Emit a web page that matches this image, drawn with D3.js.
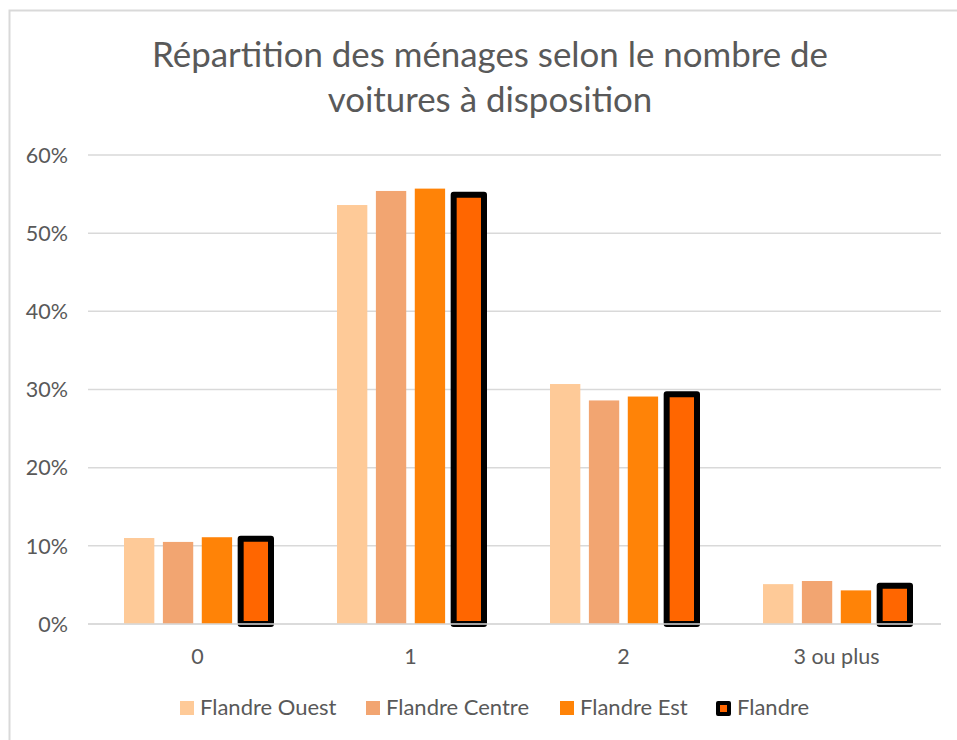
<!DOCTYPE html>
<html>
<head>
<meta charset="utf-8">
<script src="https://cdn.jsdelivr.net/npm/d3@7"></script>
<style>
  body { margin: 0; background: #fff; }
  svg text { font-family: Lato, "Open Sans", sans-serif; fill: #595959; }
</style>
</head>
<body>
<div id="chart"></div>
<script>
const categories = ['0', '1', '2', '3 ou plus'];
const seriesNames = ['Flandre Ouest', 'Flandre Centre', 'Flandre Est', 'Flandre'];
const ouest = [11.0, 53.6, 30.7, 5.1];
const centre = [10.5, 55.4, 28.6, 5.5];
const est = [11.1, 55.7, 29.1, 4.3];
const flandre = [10.9, 54.9, 29.4, 4.9];
const yTicks = [0, 10, 20, 30, 40, 50, 60];

const colors = ['#FECA98', '#F2A571', '#FF8307', '#FF6600'];
const values = [ouest, centre, est, flandre];

const W = 957, H = 740;
const svg = d3.select('#chart').append('svg')
  .attr('width', W)
  .attr('height', H);

// chart frame
svg.append('rect')
  .attr('x', 9.5).attr('y', 10.5)
  .attr('width', W + 20).attr('height', H + 20)
  .attr('fill', 'none')
  .attr('stroke', '#D9D9D9')
  .attr('stroke-width', 2);

// title
const title = svg.append('text')
  .attr('text-anchor', 'middle')
  .attr('font-size', 32);
const t1 = title.append('tspan').attr('x', 490).attr('y', 67).text('Répartition des ménages selon le nombre de');
title.append('tspan').attr('x', 490).attr('y', 112).text('voitures à disposition');
// fit first line to the width seen in the picture
const tw = t1.node().getComputedTextLength();
title.attr('font-size', 32 * 676 / tw);

const x0 = d3.scaleBand()
  .domain(categories)
  .range([91, 943]);

const x1 = d3.scaleBand()
  .domain(seriesNames)
  .range([33, 180])
  .paddingInner(0.22);

const y = d3.scaleLinear()
  .domain([0, 60])
  .range([624, 155]);

// gridlines
svg.append('g')
  .selectAll('line')
  .data(yTicks)
  .join('line')
  .attr('x1', 88).attr('x2', 941)
  .attr('y1', d => y(d)).attr('y2', d => y(d))
  .attr('stroke', '#D9D9D9')
  .attr('stroke-width', 1.5);

svg.append('g')
  .selectAll('text')
  .data(yTicks)
  .join('text')
  .attr('x', 68)
  .attr('y', d => y(d))
  .attr('dy', '0.36em')
  .attr('text-anchor', 'end')
  .attr('font-size', 21.5)
  .text(d => d + '%');

// bars
seriesNames.forEach((s, si) => {
  const g = svg.append('g');
  g.selectAll('rect')
    .data(categories)
    .join('rect')
    .attr('x', (c) => x0(c) + x1(s))
    .attr('y', (c, i) => y(values[si][i]))
    .attr('width', x1.bandwidth())
    .attr('height', (c, i) => y(0) - y(values[si][i]))
    .attr('fill', colors[si])
    .attr('stroke', si === 3 ? '#000' : 'none')
    .attr('stroke-width', si === 3 ? 6 : 0)
    .attr('stroke-linejoin', 'round');
});

// base axis line
svg.append('line')
  .attr('x1', 88).attr('x2', 941)
  .attr('y1', y(0)).attr('y2', y(0))
  .attr('stroke', '#D9D9D9')
  .attr('stroke-width', 1.5);

svg.append('g')
  .selectAll('text')
  .data(categories)
  .join('text')
  .attr('x', d => x0(d) + x0.bandwidth() / 2)
  .attr('y', 664)
  .attr('text-anchor', 'middle')
  .attr('font-size', 21.5)
  .text(d => d);

// legend
const legendX = [180, 366, 560, 716];
const lg = svg.append('g');
seriesNames.forEach((s, i) => {
  const item = lg.append('g').attr('transform', `translate(${legendX[i]},701)`);
  if (i === 3) {
    item.append('rect')
      .attr('x', 2).attr('y', 2).attr('width', 11).attr('height', 11)
      .attr('fill', colors[i])
      .attr('stroke', '#000').attr('stroke-width', 4)
      .attr('stroke-linejoin', 'round');
  } else {
    item.append('rect')
      .attr('x', 0).attr('y', 0).attr('width', 14).attr('height', 14)
      .attr('fill', colors[i]);
  }
  item.append('text')
    .attr('x', i === 3 ? 21 : 20)
    .attr('y', 14)
    .attr('font-size', 22)
    .text(s);
});
</script>
</body>
</html>
